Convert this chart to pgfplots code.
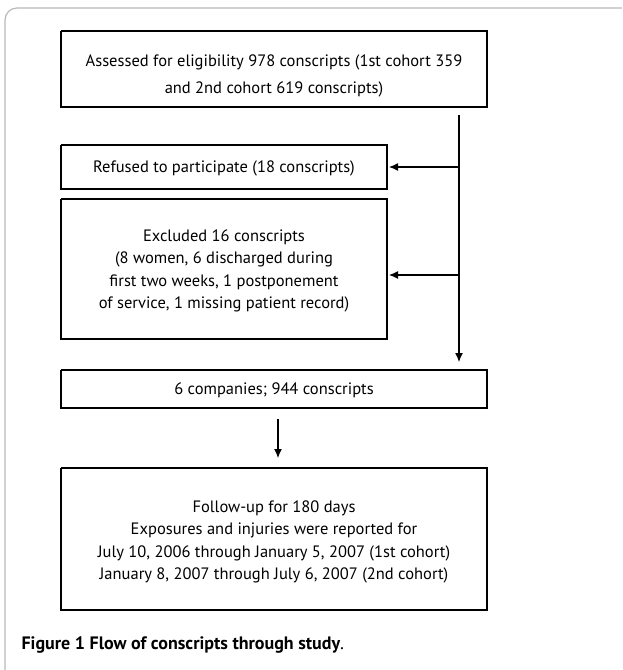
\documentclass[border=0pt]{standalone}
\usepackage{pgfplots}
\pgfplotsset{compat=1.18}
\usetikzlibrary{arrows.meta}
\usepackage{fontspec}
\setmainfont{PT Sans}
\begin{document}
\begin{tikzpicture}
\begin{axis}[
  width=622pt, height=670pt, scale only axis,
  xmin=0, xmax=622, ymin=0, ymax=670, y dir=reverse,
  axis lines=none, clip=false,
]
% outer frame
\addplot[gray!55, line width=1.2pt, rounded corners=12pt] coordinates {(5,670) (5,8) (622,8)};
% boxes
\addplot[black, line width=1.9pt] coordinates {(61,31) (487,31) (487,107) (61,107) (61,31)};
\addplot[black, line width=1.9pt] coordinates {(61,145) (387,145) (387,189) (61,189) (61,145)};
\addplot[black, line width=1.9pt] coordinates {(61,199) (387,199) (387,339) (61,339) (61,199)};
\addplot[black, line width=1.9pt] coordinates {(61,370) (487,370) (487,408) (61,408) (61,370)};
\addplot[black, line width=1.9pt] coordinates {(61,468) (487,468) (487,610) (61,610) (61,468)};
% arrows
\addplot[black, line width=1.2pt, -{Latex[length=9pt,width=8pt]}] coordinates {(459,115) (459,362)};
\addplot[black, line width=1.2pt, -{Latex[length=9pt,width=8pt]}] coordinates {(459,167) (389,167)};
\addplot[black, line width=1.2pt, -{Latex[length=9pt,width=8pt]}] coordinates {(459,275) (389,275)};
\addplot[black, line width=1.2pt, -{Latex[length=9pt,width=8pt]}] coordinates {(278,419) (278,458)};
% texts
\node[align=center, font=\fontsize{16.5}{27}\selectfont] at (axis cs:274,76) {Assessed for eligibility 978 conscripts (1st cohort 359\\and 2nd cohort 619 conscripts)};
\node[align=center, font=\fontsize{16.5}{22.5}\selectfont] at (axis cs:224,168) {Refused to participate (18 conscripts)};
\node[align=center, font=\fontsize{16.5}{22.5}\selectfont] at (axis cs:224,271) {Excluded 16 conscripts\\(8 women, 6 discharged during\\first two weeks, 1 postponement\\of service, 1 missing patient record)};
\node[align=center, font=\fontsize{16.5}{22.5}\selectfont] at (axis cs:274,390) {6 companies; 944 conscripts};
\node[align=center, font=\fontsize{16.5}{22.5}\selectfont] at (axis cs:274,542) {Follow-up for 180 days\\Exposures and injuries were reported for\\July 10, 2006 through January 5, 2007 (1st cohort)\\January 8, 2007 through July 6, 2007 (2nd cohort)};
\node[anchor=west, font=\fontsize{18}{21}\selectfont] at (axis cs:18,645) {\textbf{Figure 1 Flow of conscripts through study}.};
\end{axis}
\pgfresetboundingbox
\path[use as bounding box] (current axis.south west) rectangle (current axis.north east);
\end{tikzpicture}
\end{document}
